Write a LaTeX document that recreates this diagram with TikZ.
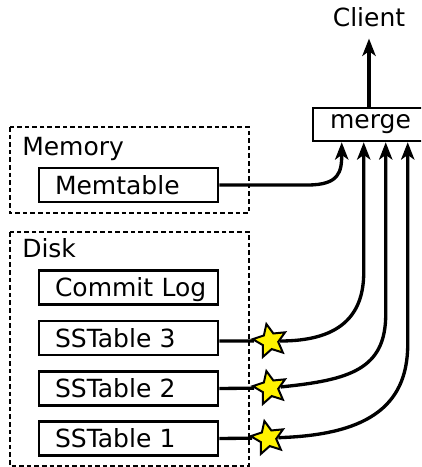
\documentclass[tikz,border=0pt]{standalone}
\usepackage{fontspec}
\setmainfont{DejaVu Sans}
\usetikzlibrary{arrows.meta,shapes.geometric,calc}

\tikzset{
  lbl/.style={font=\fontsize{18.75pt}{22pt}\selectfont, inner sep=0pt},
  tablebox/.style={draw, line width=1.9pt, font=\fontsize{18.75pt}{22pt}\selectfont,
    text width=124.25pt, align=left, inner xsep=5pt, inner ysep=0pt,
    execute at begin node={\hspace*{7pt}},
    minimum height=25.5pt, text height=13.7pt, text depth=0pt},
  mergebox/.style={draw, line width=1.9pt, font=\fontsize{18.75pt}{22pt}\selectfont,
    minimum width=86.25pt, minimum height=24.75pt, inner sep=0pt,
    text height=10.3pt, text depth=3.6pt},
  region/.style={draw, line width=1.6pt, dash pattern=on 3.4pt off 2.3pt},
  flag/.style={star, star points=5, star point ratio=2.1, minimum size=26pt,
    inner sep=0pt, draw, line width=1.5pt, fill=yellow, rotate=12},
  conn/.style={line width=2.5pt, -{Stealth[length=13pt,width=10pt,inset=3.5pt]}},
  feed/.style={line width=2.5pt}
}

\begin{document}
\begin{tikzpicture}[x=0.75pt, y=-0.75pt]
  \clip (0,0) rectangle (421,467);

  % storage regions
  \draw[region] (10,127) rectangle (249,213);
  \draw[region] (10,232) rectangle (249,466);
  \node[lbl, anchor=base west] (memlbl) at (22,155) {Memory};
  \node[lbl, anchor=base west] (disklbl) at (22,257) {Disk};

  % tables
  \node[tablebox] (memtable) at (128.5,185) {Memtable};
  \node[tablebox] (commitlog) at (128.5,287.5) {Commit Log};
  \node[tablebox] (sst3) at (128.5,338) {SSTable 3};
  \node[tablebox] (sst2) at (128.5,388.5) {SSTable 2};
  \node[tablebox] (sst1) at (128.5,438.5) {SSTable 1};

  % merge and client
  \node[mergebox] (merge) at (370.5,124.5) {merge};
  \node[lbl, anchor=base, inner ysep=8.2pt] (client) at (369,27) {Client};
  \draw[conn] (merge.north -| client.south) -- (client.south);

  % markers on the SSTable outputs
  \node[flag] (star3) at (270,341) {};
  \node[flag] (star2) at (270,388) {};
  \node[flag] (star1) at (268,438) {};

  \draw[feed] (sst3.east |- star3) -- (star3);
  \draw[feed] (sst2.east) -- (star2);
  \draw[feed] (sst1.east) -- (star1);

  % inputs to merge
  \draw[conn] (memtable.east) -- ++(88,0)
    .. controls +(32,0) and +(0,30) .. ($(merge.south west)+(30,0)$);
  \draw[conn] (star3) .. controls +(68,0) and +(0,45) .. ($(merge.south west)+(52,130)$)
    -- ($(merge.south west)+(52,0)$);
  \draw[conn] (star2) .. controls +(80,-8) and +(0,55) .. ($(merge.south west)+(74,172)$)
    -- ($(merge.south west)+(74,0)$);
  \draw[conn] (star1) .. controls +(95,-3) and +(0,65) .. ($(merge.south west)+(96,202)$)
    -- ($(merge.south west)+(96,0)$);
\end{tikzpicture}
\end{document}
